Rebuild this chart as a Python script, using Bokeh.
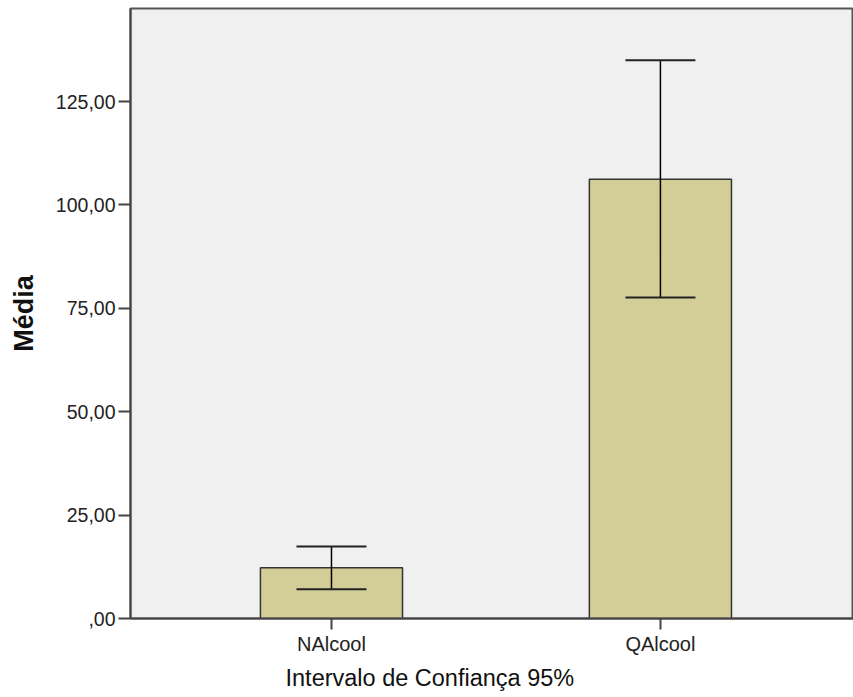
from bokeh.plotting import figure
from bokeh.models import ColumnDataSource, Range1d, FixedTicker, Whisker, TeeHead, Title
from bokeh.embed import file_html
from bokeh.resources import INLINE

categories = ["NAlcool", "QAlcool"]
means = [12.3, 106.2]
ci_lower = [7.1, 77.6]
ci_upper = [17.4, 135.0]
y_ticks = [0, 25, 50, 75, 100, 125]
y_tick_labels = [",00", "25,00", "50,00", "75,00", "100,00", "125,00"]
x_title = "Intervalo de Confiança 95%"
y_title = "Média"

xpos = [i + 1 for i in range(len(categories))]
src = ColumnDataSource(dict(x=xpos, top=means, lo=ci_lower, hi=ci_upper))

p = figure(width=853, height=697, output_backend="svg", toolbar_location=None,
           x_range=Range1d(0.389, 2.587), y_range=Range1d(0, 147.5),
           min_border_left=130, min_border_right=0, min_border_top=8, min_border_bottom=79)
p.background_fill_color = "#F0F0F0"
p.border_fill_color = "white"
p.outline_line_color = "#555555"
p.outline_line_width = 2
p.xgrid.visible = False
p.ygrid.visible = False

p.vbar(x="x", top="top", bottom=0, width=0.432, source=src,
       fill_color="#D3CE98", line_color="#333333", line_width=1.5)

w = Whisker(base="x", lower="lo", upper="hi", source=src, level="overlay",
            line_color="black", line_width=1.5,
            upper_head=TeeHead(size=70, line_color="#222222", line_width=2),
            lower_head=TeeHead(size=70, line_color="#222222", line_width=2))
p.add_layout(w)

font = "Liberation Sans"
for ax in (p.xaxis[0], p.yaxis[0]):
    ax.axis_line_color = "#444444"
    ax.axis_line_width = 2
    ax.major_tick_line_color = "#444444"
    ax.major_tick_line_width = 2
    ax.major_tick_in = 0
    ax.minor_tick_line_color = None
    ax.major_label_text_font = font
    ax.major_label_text_color = "#222222"
    ax.axis_label_text_font = font
    ax.axis_label_text_color = "#111111"

p.xaxis.ticker = FixedTicker(ticks=xpos)
p.xaxis.major_label_overrides = {x: c for x, c in zip(xpos, categories)}
p.xaxis.major_tick_out = 11
p.xaxis.major_label_standoff = 3
p.xaxis.major_label_text_font_size = "20px"

# x-axis title sits left of the frame centre in the reference
title_below = Title(text=x_title, align="left", offset=155, text_font=font,
                    text_font_size="23.5px", text_font_style="normal",
                    text_color="#111111", standoff=11)
p.add_layout(title_below, "below")

p.yaxis.ticker = FixedTicker(ticks=y_ticks)
p.yaxis.major_label_overrides = {t: l for t, l in zip(y_ticks, y_tick_labels)}
p.yaxis.major_tick_out = 12
p.yaxis.major_label_standoff = 3
p.yaxis.major_label_text_font_size = "19.5px"
p.yaxis.axis_label = y_title
p.yaxis.axis_label_text_font_size = "27px"
p.yaxis.axis_label_text_font_style = "bold"
p.yaxis.axis_label_standoff = 14

open("out.html", "w").write(file_html(p, INLINE))
